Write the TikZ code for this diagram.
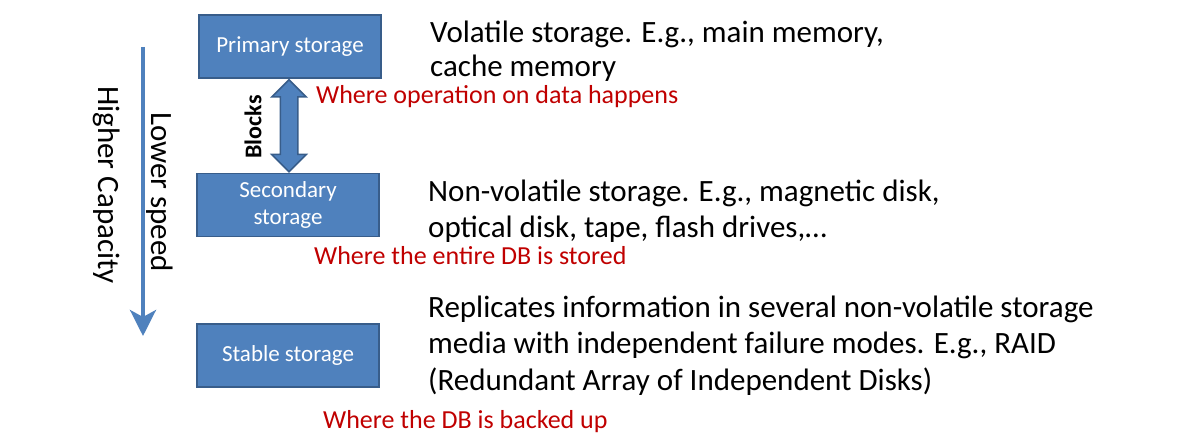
\documentclass[tikz,border=0pt]{standalone}
\usepackage{fontspec}
\setmainfont{Carlito}
\usetikzlibrary{arrows.meta,positioning,calc,shapes.arrows}
\definecolor{boxblue}{HTML}{4F81BD}
\definecolor{boxedge}{HTML}{385D8A}
\definecolor{notered}{HTML}{C00000}
\newcommand{\storebox}[3]{
  \node[draw=boxedge,fill=boxblue,line width=1.5pt,minimum width=182pt,minimum height=63pt,
        text=white,align=center,font=\fontsize{23}{27}\selectfont] (#1) at #2 {#3};
}
\tikzset{
  bigtext/.style={anchor=base west,align=left,inner sep=0pt,font=\fontsize{31}{34}\selectfont},
  redtext/.style={anchor=base west,inner sep=0pt,text=notered,font=\fontsize{26}{30}\selectfont},
  sidetext/.style={rotate=-90,inner sep=0pt,font=\fontsize{31}{34}\selectfont},
  blockarrow/.style={double arrow,draw=boxedge,fill=boxblue,line width=1.5pt,rotate=90,
        minimum height=92pt,minimum width=0pt,double arrow head extend=8.5pt,
        inner xsep=0pt,inner ysep=8pt},
  speedarrow/.style={draw=boxblue,line width=4pt,-{Stealth[length=26pt,width=26pt,inset=7pt]}}
}

\begin{document}
\begin{tikzpicture}[x=1pt,y=-1pt,>=Latex]
  \useasboundingbox (0,0) rectangle (1197,438);
  % storage levels
  \storebox{prim}{(290,46.5)}{Primary storage}
  \storebox{sec}{(288,205)}{Secondary\\storage}
  \storebox{stab}{(288,355.5)}{Stable storage}
  % transfer between primary and secondary
  \node[blockarrow] (blk) at ($(prim.south)!0.5!(sec.north)$) {};
  \node[rotate=90,inner sep=0pt,font=\fontsize{24}{26}\selectfont\bfseries] (blklbl) at (253,127) {Blocks};
  % speed / capacity axis
  \coordinate (axtop) at (143,47);
  \coordinate (axbot) at (143,336);
  \draw[speedarrow] (axtop) -- (axbot);
  \node[sidetext] (speed) at (160,192) {Lower speed};
  \node[sidetext] (capac) at (107,185) {Higher Capacity};
  % descriptions (anchored on the last line)
  \node[bigtext] (primtxt) at (430,77) {Volatile storage. E.g., main memory,\\cache memory};
  \node[redtext] (primred) at (316,104) {Where operation on data happens};
  \node[bigtext,font=\fontsize{31}{36}\selectfont] (sectxt) at (428,238) {Non-volatile storage. E.g., magnetic disk,\\optical disk, tape, flash drives,\dots};
  \node[redtext] (secred) at (314,265) {Where the entire DB is stored};
  \node[bigtext,font=\fontsize{31}{36.5}\selectfont] (stabtxt) at (428,390) {Replicates information in several non-volatile storage\\media with independent failure modes. E.g., RAID\\(Redundant Array of Independent Disks)};
  \node[redtext] (stabred) at (323,428) {Where the DB is backed up};
\end{tikzpicture}
\end{document}
